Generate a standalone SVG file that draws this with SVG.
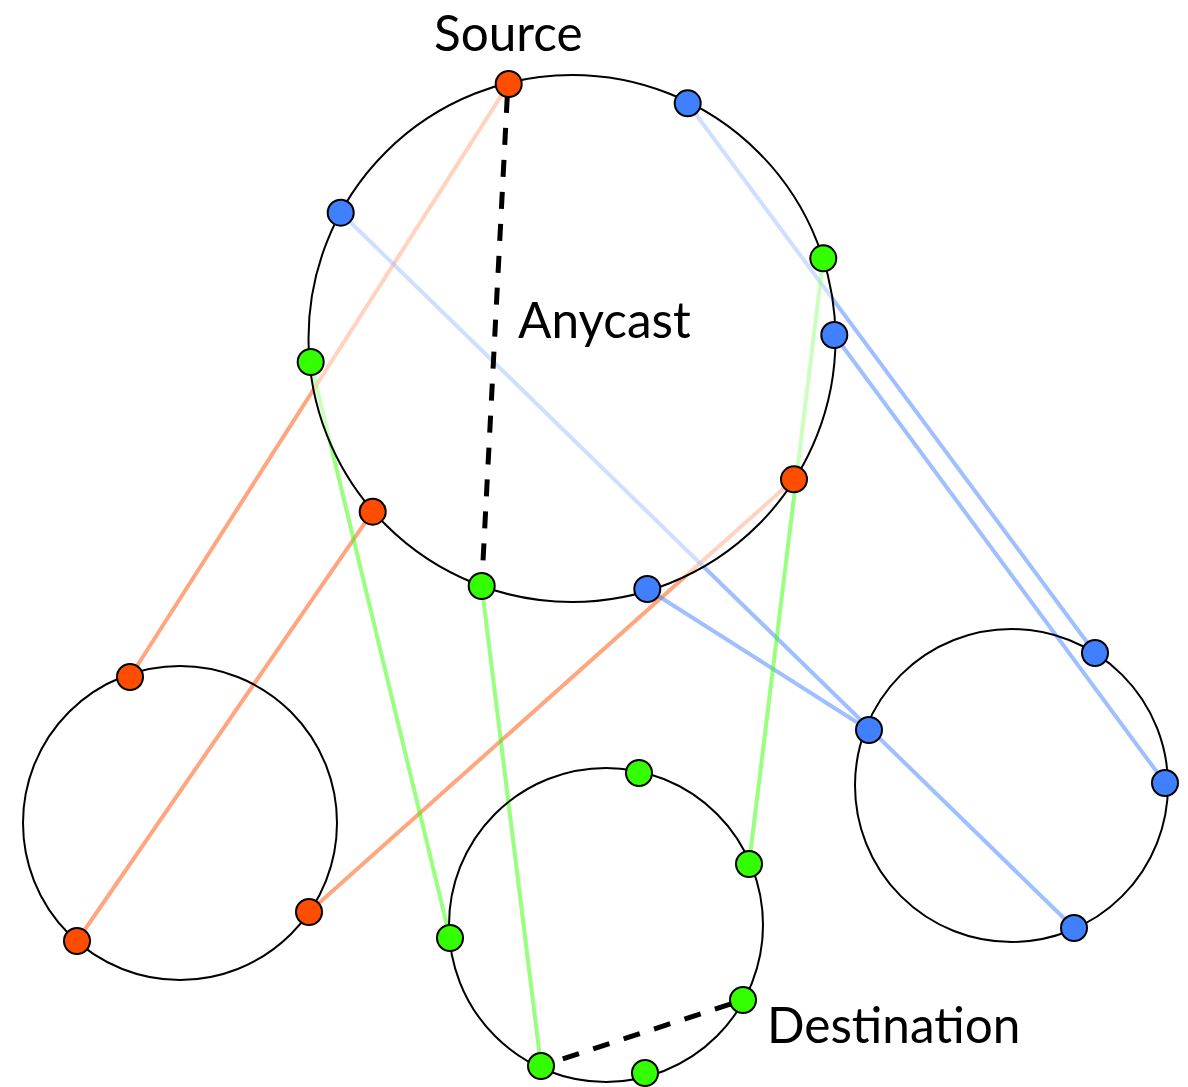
<svg xmlns="http://www.w3.org/2000/svg" width="1188" height="1087" viewBox="0 0 1188 1087">
  <style>
    .ring { fill: none; stroke: #000; stroke-width: 2; }
    .ring-main { fill: #fff; fill-opacity: 0.5; stroke: #000; stroke-width: 2; }
    .peer { stroke: #000; stroke-width: 2; }
    .orange { fill: #FF4D00; }
    .blue { fill: #4080FF; }
    .green { fill: #33FF00; }
    .link { stroke-width: 4; stroke-opacity: 0.5; fill: none; }
    .l-orange { stroke: #FF4D00; }
    .l-blue { stroke: #4080FF; }
    .l-green { stroke: #33FF00; }
    .anycast { stroke: #000; stroke-width: 5; stroke-dasharray: 17 15; fill: none; }
    .label { font-family: Lato, "Open Sans", "Liberation Sans", sans-serif; font-size: 49.5px; fill: #000; }
  </style>

  <!-- overlay links between rings -->
  <g id="connectors">
    <line class="link l-orange" x1="508.7" y1="84" x2="130" y2="677"/>
    <line class="link l-orange" x1="372.7" y1="511.7" x2="77" y2="941"/>
    <line class="link l-orange" x1="794" y1="479.3" x2="309" y2="912"/>
    <line class="link l-blue" x1="340.7" y1="212.7" x2="1074" y2="928"/>
    <line class="link l-blue" x1="687.7" y1="103.3" x2="1095" y2="653"/>
    <line class="link l-blue" x1="834.3" y1="335" x2="1165" y2="783"/>
    <line class="link l-blue" x1="647.3" y1="589" x2="869" y2="730"/>
    <line class="link l-green" x1="310.7" y1="362" x2="450" y2="938"/>
    <line class="link l-green" x1="481.7" y1="586" x2="541" y2="1066"/>
    <line class="link l-green" x1="823.3" y1="258.3" x2="749" y2="864"/>
  </g>

  <!-- rings -->
  <g id="ring-main">
    <circle class="ring-main" cx="572" cy="338.5" r="263.5"/>
  </g>
  <g id="ring-left">
    <circle class="ring" cx="180" cy="823" r="157"/>
  </g>
  <g id="ring-bottom">
    <circle class="ring" cx="606" cy="925" r="157"/>
  </g>
  <g id="ring-right">
    <circle class="ring" cx="1011.5" cy="785.5" r="156.5"/>
  </g>

  <!-- routing inside a ring -->
  <g id="anycast-paths">
    <line class="anycast" x1="507.3" y1="96" x2="481.7" y2="586"/>
    <line class="anycast" x1="562.8" y1="1058.8" x2="743" y2="1000"/>
  </g>

  <!-- peers on the main ring -->
  <g id="peer-m1"><circle class="peer orange" cx="508.7" cy="84" r="13"/></g>
  <g id="peer-m2"><circle class="peer blue" cx="687.7" cy="103.3" r="13"/></g>
  <g id="peer-m3"><circle class="peer blue" cx="340.7" cy="212.7" r="13"/></g>
  <g id="peer-m4"><circle class="peer green" cx="823.3" cy="258.3" r="13"/></g>
  <g id="peer-m5"><circle class="peer blue" cx="834.3" cy="335" r="13"/></g>
  <g id="peer-m6"><circle class="peer green" cx="310.7" cy="362" r="13"/></g>
  <g id="peer-m7"><circle class="peer orange" cx="794" cy="479.3" r="13"/></g>
  <g id="peer-m8"><circle class="peer orange" cx="372.7" cy="511.7" r="13"/></g>
  <g id="peer-m9"><circle class="peer green" cx="481.7" cy="586" r="13"/></g>
  <g id="peer-m10"><circle class="peer blue" cx="647.3" cy="589" r="13"/></g>

  <!-- peers on the left ring -->
  <g id="peer-l1"><circle class="peer orange" cx="130" cy="677" r="13"/></g>
  <g id="peer-l2"><circle class="peer orange" cx="77" cy="941" r="13"/></g>
  <g id="peer-l3"><circle class="peer orange" cx="309" cy="912" r="13"/></g>

  <!-- peers on the bottom ring -->
  <g id="peer-b1"><circle class="peer green" cx="639" cy="773" r="13"/></g>
  <g id="peer-b2"><circle class="peer green" cx="749" cy="864" r="13"/></g>
  <g id="peer-b3"><circle class="peer green" cx="450" cy="938" r="13"/></g>
  <g id="peer-b4"><circle class="peer green" cx="743" cy="1000" r="13"/></g>
  <g id="peer-b5"><circle class="peer green" cx="541" cy="1066" r="13"/></g>
  <g id="peer-b6"><circle class="peer green" cx="645" cy="1073" r="13"/></g>

  <!-- peers on the right ring -->
  <g id="peer-r1"><circle class="peer blue" cx="1095" cy="653" r="13"/></g>
  <g id="peer-r2"><circle class="peer blue" cx="869" cy="730" r="13"/></g>
  <g id="peer-r3"><circle class="peer blue" cx="1165" cy="783" r="13"/></g>
  <g id="peer-r4"><circle class="peer blue" cx="1074" cy="928" r="13"/></g>

  <!-- labels -->
  <text class="label" x="434" y="51">Source</text>
  <text class="label" x="518" y="338">Anycast</text>
  <text class="label" x="767" y="1043">Destination</text>
</svg>
